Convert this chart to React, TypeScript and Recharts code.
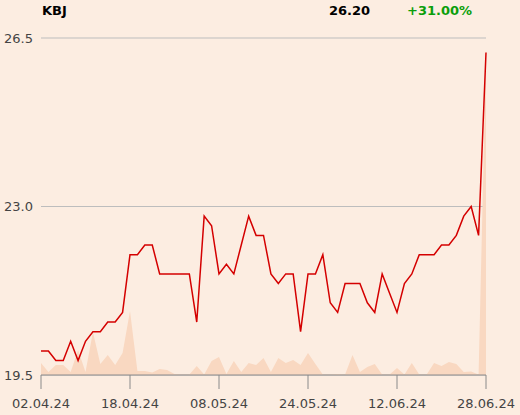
import React from "react";
import { ComposedChart, Line, Area, XAxis, YAxis, CartesianGrid } from "recharts";

const dates: string[] = [
  "02.04.24","03.04.24","04.04.24","05.04.24","08.04.24","09.04.24","10.04.24","11.04.24","12.04.24","15.04.24",
  "16.04.24","17.04.24","18.04.24","19.04.24","22.04.24","23.04.24","24.04.24","25.04.24","26.04.24","29.04.24",
  "30.04.24","02.05.24","06.05.24","07.05.24","08.05.24","09.05.24","10.05.24","13.05.24","14.05.24","15.05.24",
  "16.05.24","17.05.24","20.05.24","21.05.24","22.05.24","23.05.24","24.05.24","27.05.24","28.05.24","29.05.24",
  "31.05.24","03.06.24","04.06.24","05.06.24","06.06.24","07.06.24","10.06.24","11.06.24","12.06.24","13.06.24",
  "14.06.24","17.06.24","18.06.24","19.06.24","20.06.24","21.06.24","24.06.24","25.06.24","26.06.24","27.06.24",
  "28.06.24",
];

const prices: number[] = [
  20.0, 20.0, 19.8, 19.8, 20.2, 19.8, 20.2, 20.4, 20.4, 20.6,
  20.6, 20.8, 22.0, 22.0, 22.2, 22.2, 21.6, 21.6, 21.6, 21.6,
  21.6, 20.6, 22.8, 22.6, 21.6, 21.8, 21.6, 22.2, 22.8, 22.4,
  22.4, 21.6, 21.4, 21.6, 21.6, 20.4, 21.6, 21.6, 22.0, 21.0,
  20.8, 21.4, 21.4, 21.4, 21.0, 20.8, 21.6, 21.2, 20.8, 21.4,
  21.6, 22.0, 22.0, 22.0, 22.2, 22.2, 22.4, 22.8, 23.0, 22.4,
  26.2,
];

const volumes: number[] = [
  12000, 3000, 10000, 10000, 3000, 25000, 3000, 43000, 11000, 20000,
  10000, 22000, 64000, 4000, 4000, 2500, 6000, 5000, 1000, 500,
  500, 9000, 500, 14000, 18000, 1000, 14000, 3000, 12000, 10000,
  17000, 3000, 17000, 12000, 15000, 10000, 22000, 11000, 500, 500,
  1000, 500, 20000, 3000, 8000, 11000, 500, 500, 7000, 500,
  12000, 500, 500, 12000, 9000, 13000, 11000, 3000, 3500, 500,
  320000,
];

const yTicks: number[] = [19.5, 23.0, 26.5];
const xTicks: number[] = [0, 12, 24, 36, 48, 60];

const ticker = "KBJ";
const lastPrice = "26.20";
const change = "+31.00%";

const data = dates.map((d, i) => ({ idx: i, date: d, price: prices[i], volume: volumes[i] }));

const FONT = "DejaVu Sans, sans-serif";

export default function App() {
  return (
    <div style={{ position: "absolute", left: 0, top: 0, width: 520, height: 415, background: "#fcede1" }}>
      <ComposedChart width={520} height={415} data={data} margin={{ top: 38, right: 34, bottom: 0, left: 0 }}>
        <CartesianGrid horizontal={true} vertical={false} stroke="#bdbdbd" strokeWidth={1} />
        <XAxis
          dataKey="idx"
          type="number"
          domain={[0, 60]}
          ticks={xTicks}
          tickFormatter={(v: number) => dates[v]}
          height={40}
          tickSize={14}
          tickMargin={10}
          axisLine={{ stroke: "#8a8a8a" }}
          tickLine={{ stroke: "#8a8a8a" }}
          tick={{ fill: "#444", fontSize: 13, fontFamily: FONT }}
          interval={0}
        />
        <YAxis
          domain={[19.5, 26.5]}
          ticks={yTicks}
          width={41}
          tickSize={0}
          tickMargin={8}
          axisLine={false}
          tickLine={false}
          tickFormatter={(v: number) => v.toFixed(1)}
          tick={{ fill: "#444", fontSize: 13, fontFamily: FONT }}
          allowDataOverflow
        />
        <YAxis yAxisId="v" hide domain={[0, 337000]} allowDataOverflow />
        <Area
          yAxisId="v"
          dataKey="volume"
          type="linear"
          stroke="none"
          fill="#f9d8c1"
          fillOpacity={1}
          isAnimationActive={false}
        />
        <Line
          dataKey="price"
          type="linear"
          stroke="#d40000"
          strokeWidth={1.5}
          dot={false}
          isAnimationActive={false}
        />
      </ComposedChart>
      <svg width={520} height={415} style={{ position: "absolute", left: 0, top: 0, pointerEvents: "none" }}>
        <text x={42} y={15} fontFamily={FONT} fontWeight="bold" fontSize={13} fill="#000">{ticker}</text>
        <text x={370} y={15} textAnchor="end" fontFamily={FONT} fontWeight="bold" fontSize={13} fill="#000">{lastPrice}</text>
        <text x={407} y={15} fontFamily={FONT} fontWeight="bold" fontSize={13} fill="#0a9e0a">{change}</text>
      </svg>
    </div>
  );
}
